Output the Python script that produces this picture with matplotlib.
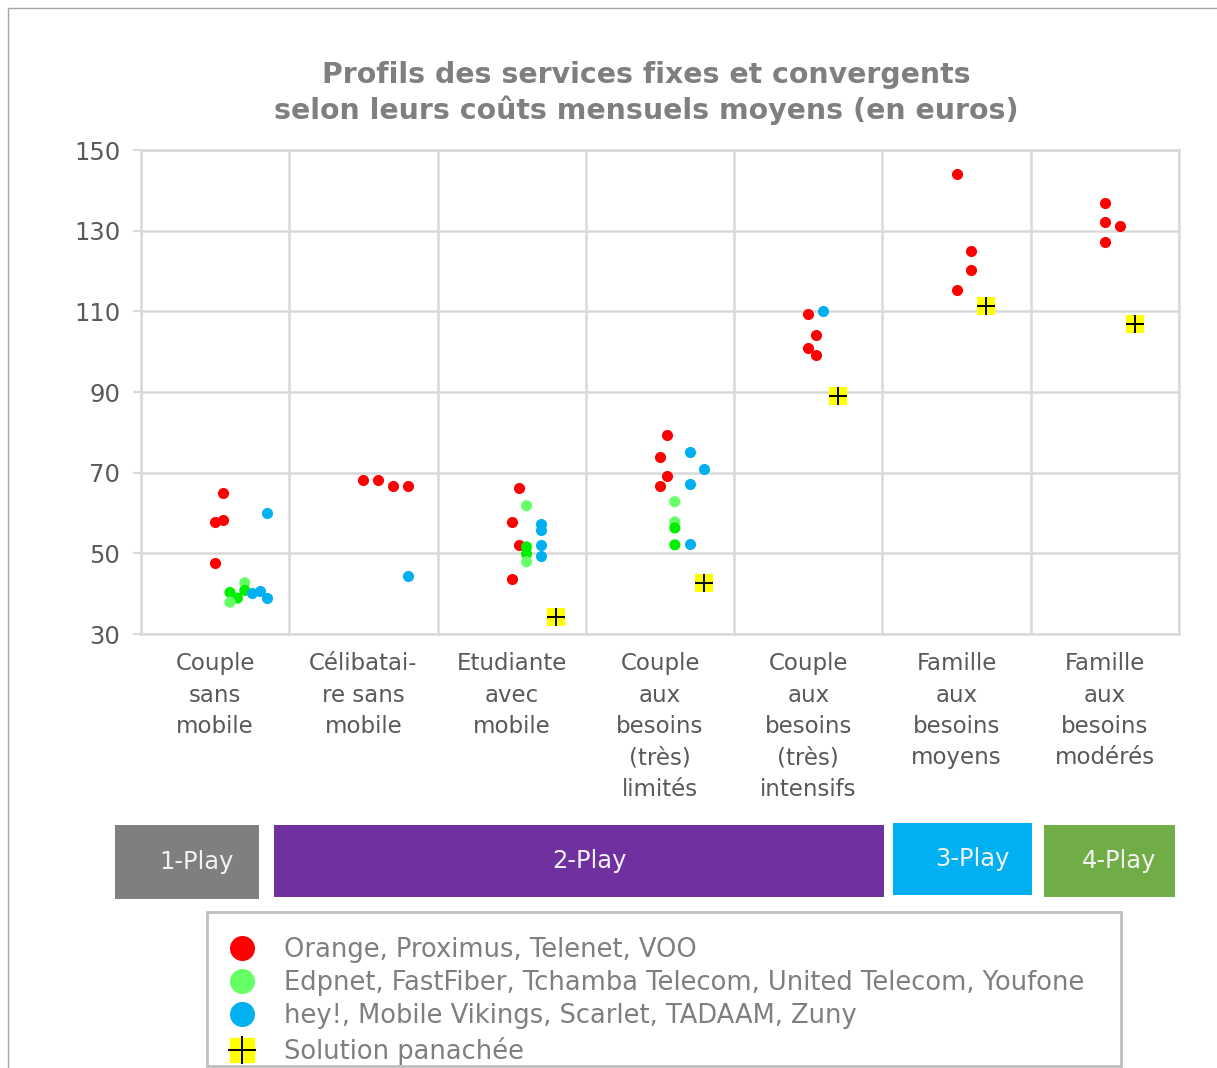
import matplotlib.pyplot as plt
from matplotlib.patches import Rectangle
from matplotlib.lines import Line2D

# categories (x positions 1..7, small offsets inside a category as in the source sheet)
categories = ["Couple\nsans\nmobile", "Célibatai-\nre sans\nmobile", "Etudiante\navec\nmobile",
              "Couple\naux\nbesoins\n(très)\nlimités", "Couple\naux\nbesoins\n(très)\nintensifs",
              "Famille\naux\nbesoins\nmoyens", "Famille\naux\nbesoins\nmodérés"]

red_x = [1.05, 1.00, 1.05, 1.00, 2.00, 2.10, 2.20, 2.30, 3.05, 3.00, 3.05, 3.00,
         4.05, 4.00, 4.05, 4.00, 5.00, 5.05, 5.00, 5.05, 6.00, 6.10, 6.10, 6.00,
         7.00, 7.00, 7.10, 7.00]
red_y = [65.0, 57.7, 58.2, 47.7, 68.2, 68.3, 66.8, 66.8, 66.2, 57.8, 52.1, 43.6,
         79.3, 73.8, 69.2, 66.8, 109.3, 104.1, 100.8, 99.2, 144.0, 124.9, 120.2, 115.2,
         136.9, 132.2, 131.2, 127.2]

green_x = [1.20, 1.10, 1.20, 1.15, 1.10, 3.10, 3.10, 3.10, 3.10, 4.10, 4.10, 4.10, 4.10]
green_y = [42.7, 40.3, 40.8, 38.9, 37.9, 61.8, 51.6, 49.9, 47.9, 62.8, 57.8, 56.3, 52.1]

blue_x = [1.35, 1.25, 1.30, 1.35, 2.30, 3.20, 3.20, 3.20, 3.20, 4.20, 4.30, 4.20, 4.20, 5.10]
blue_y = [60.1, 40.1, 40.7, 39.0, 44.4, 57.2, 55.8, 52.1, 49.3, 75.2, 70.8, 67.2, 52.3, 110.2]

mix_x = [3.30, 4.30, 5.20, 6.20, 7.20]
mix_y = [34.1, 42.6, 89.1, 111.2, 106.9]

series_labels = ["Orange, Proximus, Telenet, VOO",
                 "Edpnet, FastFiber, Tchamba Telecom, United Telecom, Youfone",
                 "hey!, Mobile Vikings, Scarlet, TADAAM, Zuny",
                 "Solution panachée"]

play_labels = ["1-Play", "2-Play", "3-Play", "4-Play"]

RED = "#ff0000"
GREEN = "#66ff66"
GREEN_DARK = "#00ee00"
BLUE = "#00b0f0"
YELLOW = "#ffff00"
GRID = "#d9d9d9"
TXT = "#595959"

W, H = 1217, 1068
fig = plt.figure(figsize=(W / 100, H / 100), dpi=100)
fig.patch.set_facecolor("white")

ax = fig.add_axes([141 / W, 1 - 634 / H, (1179 - 141) / W, (634 - 150) / H])

# overlapped green points look more saturated in the source
green_cols = [GREEN, GREEN_DARK, GREEN_DARK, GREEN_DARK, GREEN, GREEN, GREEN_DARK,
              GREEN_DARK, GREEN, GREEN, GREEN, GREEN_DARK, GREEN_DARK]

ax.scatter(red_x, red_y, s=64, color=RED, zorder=3, linewidths=0)
ax.scatter(green_x, green_y, s=64, c=green_cols, zorder=3, linewidths=0)
ax.scatter(blue_x, blue_y, s=64, color=BLUE, zorder=3, linewidths=0)
ax.scatter(mix_x, mix_y, s=170, marker="s", color=YELLOW, zorder=3, linewidths=0)
ax.scatter(mix_x, mix_y, s=150, marker="+", color="black", zorder=4, linewidths=1.4)

ax.set_xlim(0.5, 7.5)
ax.set_ylim(30, 150)
ax.set_yticks(range(30, 151, 20))
ax.set_xticks([i + 0.5 for i in range(0, 8)])
ax.set_xticklabels([])
ax.set_xticks(range(1, 8), minor=True)
ax.set_xticklabels(categories, minor=True, fontsize=16.5, color=TXT, linespacing=1.47)
ax.tick_params(axis="x", which="both", length=0)
ax.tick_params(axis="x", which="minor", pad=13)
ax.tick_params(axis="y", length=6, width=1.5, color=GRID, labelsize=17.5, labelcolor=TXT, pad=9)
ax.grid(True, which="major", color=GRID, linewidth=1.8)
ax.set_axisbelow(True)
for sp in ax.spines.values():
    sp.set_color(GRID)
    sp.set_linewidth(1.8)

fig.text(646 / W, 1 - 93 / H,
         "Profils des services fixes et convergents\nselon leurs coûts mensuels moyens (en euros)",
         ha="center", va="center", fontsize=20.4, fontweight="bold", color="#7f7f7f", linespacing=1.3)

# play bands under the categories
bands = [(115, 825, 259, 899, "#7f7f7f"), (274, 825, 884, 897, "#7030a0"),
         (893, 823, 1032, 895, "#00b0f0"), (1044, 825, 1175, 897, "#70ad47")]
for (x0, y0, x1, y1, col), lab in zip(bands, play_labels):
    fig.patches.append(Rectangle((x0 / W, 1 - y1 / H), (x1 - x0) / W, (y1 - y0) / H,
                                 transform=fig.transFigure, facecolor=col, edgecolor="none"))
    fig.text(((x0 + x1) / 2 + 10) / W, 1 - (y0 + y1) / 2 / H, lab, ha="center", va="center",
             fontsize=17.5, color="#f2f2f2")

# legend
fig.patches.append(Rectangle((207 / W, 1 - 1066 / H), (1121 - 207) / W, (1066 - 912) / H,
                             transform=fig.transFigure, facecolor="white", edgecolor="#bfbfbf",
                             linewidth=2))
handles = [
    Line2D([], [], linestyle="none", marker="o", markersize=17, color=RED),
    Line2D([], [], linestyle="none", marker="o", markersize=17, color=GREEN),
    Line2D([], [], linestyle="none", marker="o", markersize=17, color=BLUE),
    (Line2D([], [], linestyle="none", marker="s", markersize=17, color=YELLOW),
     Line2D([], [], linestyle="none", marker="+", markersize=20, color="black", markeredgewidth=1.4)),
]
leg = fig.legend(handles, series_labels, loc="upper left", bbox_to_anchor=(225 / W, 1 - 937 / H),
                 frameon=False, fontsize=18.5, labelcolor="#7f7f7f", handlelength=1.35,
                 handletextpad=0.95, labelspacing=0.28, borderaxespad=0, borderpad=0)

# outer frame
fig.patches.append(Rectangle((8 / W, -0.01), 1.0, 1 - 8 / H + 0.01, transform=fig.transFigure,
                             facecolor="none", edgecolor="#a6a6a6", linewidth=1))

fig.savefig("out.png", dpi=100)
